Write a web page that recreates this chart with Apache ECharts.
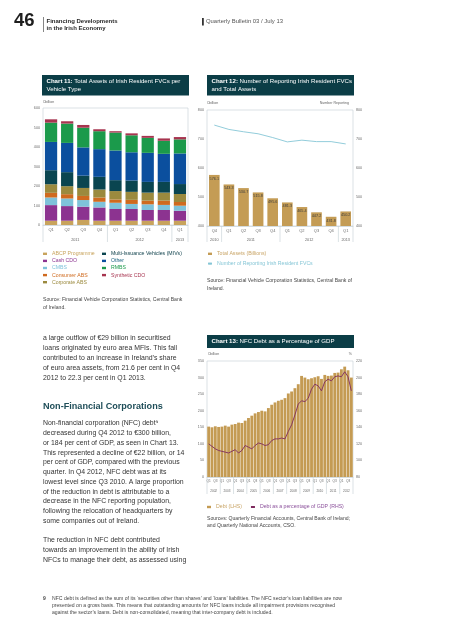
<!DOCTYPE html>
<html><head><meta charset="utf-8">
<script src="https://cdn.jsdelivr.net/npm/echarts@6/dist/echarts.min.js"></script>
<style>html,body{margin:0;padding:0;background:#fff}#c{width:453px;height:640px}</style>
</head><body><div id="c"></div><script>
const FONT = "'Liberation Sans', Arial, sans-serif";

// ---------- Chart 11 data ----------
const c11Categories = ['Q1','Q2','Q3','Q4','Q1','Q2','Q3','Q4','Q1'];
const c11Years = ['2011','2012','2013'];
const c11YearSpans = [4,4,1];
const c11Names = ['ABCP Programme','Cash CDO','CMBS','Consumer ABS','Corporate ABS','Multi-Issuance Vehicles (MIVs)','Other','RMBS','Synthetic CDO'];
const c11Colors = ['#c8a35c','#8c3390','#7fc2da','#cf6a1f','#9b8a3e','#0a4550','#0b4f9e','#1b9a4b','#a7344f'];
const abcpProgramme = [22,22,26,22,22,22,22,22,22];
const cashCdo = [80,75,68,68,60,60,55,55,51];
const cmbs = [39,39,34,29,32,26,29,26,26];
const consumerAbs = [24,22,21,22,17,21,19,22,19];
const corporateAbs = [44,41,41,41,43,41,41,41,41];
const mivs = [72,72,63,65,56,58,55,55,51];
const otherVehicles = [145,150,145,142,152,145,149,144,157];
const rmbs = [99,99,101,92,92,87,77,67,72];
const syntheticCdo = [17,12,14,10,7,10,10,12,12];
const c11Values = [abcpProgramme,cashCdo,cmbs,consumerAbs,corporateAbs,mivs,otherVehicles,rmbs,syntheticCdo];
const c11Ticks = {min:0,max:600,interval:100};

// ---------- Chart 12 data ----------
const c12Categories = ['Q4','Q1','Q2','Q3','Q4','Q1','Q2','Q3','Q4','Q1'];
const c12Years = ['2010','2011','2012','2013'];
const c12YearSpans = [1,4,4,1];
const totalAssets = [576.1,543.3,530.7,515.8,495.6,481.3,465.4,447.2,431.8,450.2];
const numberReporting = [748,733,725,718,705,690,696,691,691,683];
const c12Ticks = {min:400,max:800,interval:100};

// ---------- Chart 13 data ----------
const c13Years = ['2002','2003','2004','2005','2006','2007','2008','2009','2010','2011','2012'];
const c13Quarters = ['Q1','Q2','Q3','Q4'];
const nfcDebt = [152,150,153,151, 152,155,152,158, 160,164,163,170, 178,185,192,196,
                 200,198,208,218, 225,230,233,238, 252,258,268,280, 305,300,295,298,
                 301,304,296,308, 305,306,314,315, 325,333,322,300];
const debtPctGdp = [120,117,114,112, 111,110,109,111, 113,109,112,118, 116,114,118,121,
                    120,118,119,124, 126,126,127,126, 135,143,155,168, 172,171,175,186,
                    192,190,184,195, 198,196,201,202, 201,207,201,184];
const c13LeftTicks = {min:0,max:350,interval:50};
const c13RightTicks = {min:80,max:220,interval:20};

const c13Categories = [];
c13Years.forEach(y => c13Quarters.forEach(q => c13Categories.push(y + ' ' + q)));

const chart = echarts.init(document.getElementById('c'), null, {renderer:'canvas'});

const AX = '#6b6b6b';
const BORDER = '#c3ced3';
const axisLabel = (extra) => Object.assign({fontSize:3.7, color:AX, fontFamily:FONT, margin:3}, extra||{});

const series = [];
c11Names.forEach((n,i) => series.push({
  name:n, type:'bar', stack:'c11', xAxisIndex:0, yAxisIndex:0,
  data:c11Values[i], itemStyle:{color:c11Colors[i]}, barCategoryGap:'24%'
}));
series.push({name:'Total Assets (Billions)', type:'bar', xAxisIndex:1, yAxisIndex:1,
  data:totalAssets, itemStyle:{color:'#c49c55'}, barCategoryGap:'27%',
  label:{show:true, position:'insideTop', distance:2, fontSize:3.8, color:'#3d3d3d', fontFamily:FONT,
    formatter:p => p.value.toFixed(1)}});
series.push({name:'Number of Reporting Irish Resident FVCs', type:'line', xAxisIndex:1, yAxisIndex:2,
  data:numberReporting, symbol:'none', lineStyle:{color:'#86c6d6', width:0.9}, itemStyle:{color:'#86c6d6'}});
series.push({name:'Debt (LHS)', type:'bar', xAxisIndex:2, yAxisIndex:3,
  data:nfcDebt, itemStyle:{color:'#c49b53'}, barCategoryGap:'14%'});
series.push({name:'Debt as a percentage of GDP (RHS)', type:'line', xAxisIndex:2, yAxisIndex:4,
  data:debtPctGdp, symbol:'none', lineStyle:{color:'#7e2b5e', width:0.9}, itemStyle:{color:'#7e2b5e'}});

const gridBox = {show:true, borderColor:BORDER, borderWidth:0.6, backgroundColor:'transparent'};
const option = {
  animation:false,
  backgroundColor:'#fff',
  textStyle:{fontFamily:FONT},
  grid:[
    Object.assign({left:43, top:108, width:145, height:117}, gridBox),
    Object.assign({left:207, top:110, width:146, height:116}, gridBox),
    Object.assign({left:207, top:361, width:146, height:116}, gridBox)
  ],
  xAxis:[
    {type:'category', gridIndex:0, data:c11Categories, axisLine:{lineStyle:{color:BORDER,width:0.6}}, axisTick:{show:false}, axisLabel:axisLabel({fontSize:4})},
    {type:'category', gridIndex:1, data:c12Categories, axisLine:{lineStyle:{color:BORDER,width:0.6}}, axisTick:{show:false}, axisLabel:axisLabel({fontSize:4})},
    {type:'category', gridIndex:2, data:c13Categories, axisLine:{lineStyle:{color:BORDER,width:0.6}}, axisTick:{show:false},
      axisLabel:axisLabel({fontSize:3.2, interval:(i)=> i % 2 === 0, formatter:v => v.split(' ')[1]})}
  ],
  yAxis:[
    Object.assign({type:'value', gridIndex:0, axisLine:{show:false}, axisTick:{show:false}, splitLine:{show:false}, axisLabel:axisLabel()}, c11Ticks),
    Object.assign({type:'value', gridIndex:1, axisLine:{show:false}, axisTick:{show:false}, splitLine:{show:false}, axisLabel:axisLabel()}, c12Ticks),
    Object.assign({type:'value', gridIndex:1, position:'right', axisLine:{show:false}, axisTick:{show:false}, splitLine:{show:false}, axisLabel:axisLabel()}, c12Ticks),
    Object.assign({type:'value', gridIndex:2, axisLine:{show:false}, axisTick:{show:false}, splitLine:{show:false}, axisLabel:axisLabel()}, c13LeftTicks),
    Object.assign({type:'value', gridIndex:2, position:'right', axisLine:{show:false}, axisTick:{show:false}, splitLine:{show:false}, axisLabel:axisLabel()}, c13RightTicks)
  ],
  legend:[
    {left:43, top:251.3, orient:'vertical', padding:0, itemGap:2.1, itemWidth:4, itemHeight:2.4, selectedMode:false,
      textStyle:{fontSize:5.2, fontFamily:FONT},
      data:c11Names.slice(0,5).map((n,i)=>({name:n, icon:'rect', textStyle:{color:c11Colors[i]}}))},
    {left:102, top:251.3, orient:'vertical', padding:0, itemGap:2.1, itemWidth:4, itemHeight:2.4, selectedMode:false,
      textStyle:{fontSize:5.2, fontFamily:FONT},
      data:c11Names.slice(5).map((n,i)=>({name:n, icon:'rect', textStyle:{color:i===0?'#0a3d48':(i===1?'#145f7e':c11Colors[i+5])}}))},
    {left:207, top:251.3, orient:'vertical', padding:0, itemGap:4.8, itemWidth:4, itemHeight:2.4, selectedMode:false,
      textStyle:{fontSize:5.2, fontFamily:FONT},
      data:[{name:'Total Assets (Billions)', icon:'rect', textStyle:{color:'#c9a567'}},
            {name:'Number of Reporting Irish Resident FVCs', textStyle:{color:'#86c6d6'}}]},
    {left:207, top:504.5, orient:'horizontal', padding:0, itemGap:8, itemWidth:4, itemHeight:2.4, selectedMode:false,
      textStyle:{fontSize:5.2, fontFamily:FONT},
      data:[{name:'Debt (LHS)', icon:'rect', textStyle:{color:'#c9a567'}},
            {name:'Debt as a percentage of GDP (RHS)', textStyle:{color:'#8a4f9a'}}]}
  ],
  series:series
};
chart.setOption(option);

// ---------- text & decorations ----------
const G = [];
function txt(x, y, text, size, fill, extra){
  G.push({type:'text', x:x, y:y, silent:true, z:10,
    style:Object.assign({text:text, fill:fill||'#3a3a3a', font:(size||6)+'px '+FONT,
      textAlign:'left', textVerticalAlign:'middle', align:'left', verticalAlign:'middle'}, extra||{})});
}
function boldTxt(x, y, text, size, fill, extra){
  G.push({type:'text', x:x, y:y, silent:true, z:10,
    style:Object.assign({text:text, fill:fill||'#3a3a3a', font:'bold '+(size||6)+'px '+FONT,
      textAlign:'left', textVerticalAlign:'middle', align:'left', verticalAlign:'middle'}, extra||{})});
}
function line(x1,y1,x2,y2,color,w){
  G.push({type:'line', silent:true, z:5, shape:{x1:x1,y1:y1,x2:x2,y2:y2}, style:{stroke:color||BORDER, lineWidth:w||0.6}});
}
function rect(x,y,w,h,fill){
  G.push({type:'rect', silent:true, z:4, shape:{x:x,y:y,width:w,height:h}, style:{fill:fill}});
}

// header
boldTxt(14, 21, '46', 18.5, '#1e1e1e');
line(43.5, 17, 43.5, 32, '#333', 0.6);
boldTxt(46.5, 21, 'Financing Developments', 6.0, '#2a2a2a');
boldTxt(46.5, 28.5, 'in the Irish Economy', 6.0, '#2a2a2a');
rect(202, 18, 1.8, 7.5, '#333');
txt(206, 21.5, 'Quarterly Bulletin 03 / July 13', 5.9, '#555');

// chart title boxes
const TEAL = '#0b3d46';
function titleBox(x, y, w, h, lines){
  rect(x, y, w, h, TEAL);
  lines.forEach((l, i) => {
    G.push({type:'text', x:x+4.5, y:y + (h - lines.length*7.4)/2 + 3.8 + i*7.4, silent:true, z:10,
      style:{text:l, fill:'#fff', font:'6.1px '+FONT, textAlign:'left', textVerticalAlign:'middle', align:'left', verticalAlign:'middle',
        rich:{b:{fontWeight:'bold', fontSize:6.1, fontFamily:FONT, fill:'#fff'}, n:{fontSize:6.1, fontFamily:FONT, fill:'#fff'}}}});
  });
}
titleBox(42, 75, 147, 20.5, ['{b|Chart 11:}{n| Total Assets of Irish Resident FVCs per}', '{n|Vehicle Type}']);
titleBox(207, 75, 147, 20.5, ['{b|Chart 12:}{n| Number of Reporting Irish Resident FVCs}', '{n|and Total Assets}']);
titleBox(207, 335, 147, 13, ['{b|Chart 13:}{n| NFC Debt as a Percentage of GDP}']);

// unit labels
txt(43, 102, '€billion', 3.6, '#666');
txt(207, 103, '€billion', 3.6, '#666');
txt(349, 103, 'Number Reporting', 3.6, '#666', {textAlign:'right', align:'right'});
txt(208, 354, '€billion', 3.6, '#666');
txt(352, 354, '%', 3.6, '#666', {textAlign:'right', align:'right'});

// year groupings under category axes
function yearGroups(xAxisIndex, grid, years, spans, labelY, sepLen, size){
  const n = spans.reduce((a,b)=>a+b,0);
  const px = i => chart.convertToPixel({xAxisIndex:xAxisIndex}, i);
  const left = grid.left, right = grid.left + grid.width, bottom = grid.top + grid.height;
  let s = 0;
  const bounds = [left];
  spans.forEach((sp, k) => {
    const e = s + sp;
    const lb = s === 0 ? left : (px(s-1) + px(s)) / 2;
    const rb = e === n ? right : (px(e-1) + px(e)) / 2;
    txt((lb+rb)/2, labelY, years[k], size, '#666', {textAlign:'center', align:'center'});
    bounds.push(rb);
    s = e;
  });
  bounds.forEach(b => line(b, bottom, b, bottom + sepLen, BORDER, 0.6));
}
yearGroups(0, option.grid[0], c11Years, c11YearSpans, 239.5, 17, 3.8);
yearGroups(1, option.grid[1], c12Years, c12YearSpans, 239.5, 16, 3.8);
yearGroups(2, option.grid[2], c13Years, c13Years.map(()=>c13Quarters.length), 491, 17, 3.1);

// sources
txt(43, 300, 'Source: Financial Vehicle Corporation Statistics, Central Bank', 5.1, '#444');
txt(43, 307.5, 'of Ireland.', 5.1, '#444');
txt(207, 281, 'Source: Financial Vehicle Corporation Statistics, Central Bank of', 5.1, '#444');
txt(207, 288.5, 'Ireland.', 5.1, '#444');
txt(207, 518.5, 'Sources: Quarterly Financial Accounts, Central Bank of Ireland;', 5.1, '#444');
txt(207, 526, 'and Quarterly National Accounts, CSO.', 5.1, '#444');

// body text
const BODY = 6.9;
const para1 = ['a large outflow of €29 billion in securitised',
  'loans originated by euro area MFIs. This fall',
  'contributed to an increase in Ireland\u2019s share',
  'of euro area assets, from 21.6 per cent in Q4',
  '2012 to 22.3 per cent in Q1 2013.'];
para1.forEach((l,i) => txt(43, 338.5 + i*9.8, l, BODY, '#333'));
boldTxt(43, 406, 'Non-Financial Corporations', 9.1, '#1e4d58');
const para2 = ['Non-financial corporation (NFC) debt\u2079',
  'decreased during Q4 2012 to €300 billion,',
  'or 184 per cent of GDP, as seen in Chart 13.',
  'This represented a decline of €22 billion, or 14',
  'per cent of GDP, compared with the previous',
  'quarter. In Q4 2012, NFC debt was at its',
  'lowest level since Q3 2010. A large proportion',
  'of the reduction in debt is attributable to a',
  'decrease in the NFC reporting population,',
  'following the relocation of headquarters by',
  'some companies out of Ireland.'];
para2.forEach((l,i) => txt(43, 423.5 + i*9.75, l, BODY, '#333'));
const para3 = ['The reduction in NFC debt contributed',
  'towards an improvement in the ability of Irish',
  'NFCs to manage their debt, as assessed using'];
para3.forEach((l,i) => txt(43, 540.5 + i*9.75, l, BODY, '#333'));

// footnote
boldTxt(43, 598.5, '9', 5.0, '#444');
const foot = ['NFC debt is defined as the sum of its \u2018securities other than shares\u2019 and \u2018loans\u2019 liabilities. The NFC sector\u2019s loan liabilities are now',
  'presented on a gross basis. This means that outstanding amounts for NFC loans include all impairment provisions recognised',
  'against the sector\u2019s loans. Debt is non-consolidated, meaning that inter-company debt is included.'];
foot.forEach((l,i) => txt(52, 598.5 + i*7, l, 5.1, '#444'));

chart.setOption({graphic:{elements:G}});
</script></body></html>
